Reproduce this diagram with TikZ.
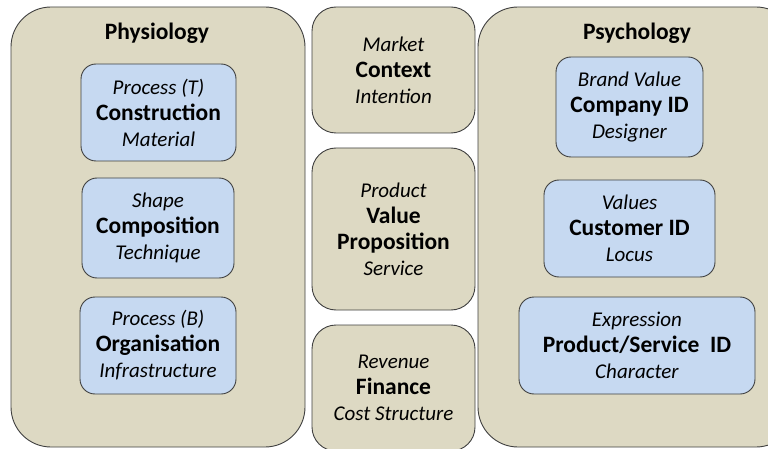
\documentclass[tikz,border=0pt]{standalone}
\usepackage{fontspec}
\setmainfont{Carlito}
\definecolor{tanbg}{HTML}{DDD9C3}
\definecolor{bluebg}{HTML}{C6D9F1}
\definecolor{edge}{HTML}{404040}
\newcommand{\trio}[3]{\textit{#1}\\\textbf{\fontsize{23.5}{26}\selectfont #2}\\\textit{#3}}
\begin{document}
\begin{tikzpicture}[x=1pt,y=-1pt,
  bigbox/.style={draw=edge,line width=0.9pt,fill=tanbg,rounded corners=40pt,inner sep=0pt},
  midbox/.style={draw=edge,line width=0.9pt,fill=tanbg,rounded corners=24pt,align=center,inner sep=0pt,font=\fontsize{21}{26}\selectfont},
  bluebox/.style={draw=edge,line width=0.9pt,fill=bluebg,rounded corners=15pt,align=center,inner sep=0pt,font=\fontsize{21}{26}\selectfont},
  title/.style={font=\bfseries\fontsize{23.5}{26}\selectfont}]
\useasboundingbox (0,0) rectangle (768,449);
\clip (0,0) rectangle (768,449);
\fill[white] (0,0) rectangle (768,449);
% big containers
\node[bigbox,minimum width=294pt,minimum height=440pt] (phys) at (158,227) {};
\node[bigbox,minimum width=318pt,minimum height=440pt] (psych) at (637,227) {};
\node[title] (physt) at (157,33) {Physiology};
\node[title] (psycht) at (637,33) {Psychology};
% middle column
\node[midbox,minimum width=163pt,minimum height=126pt] (ctx) at (393.5,70) {\trio{Market}{Context}{Intention}};
\node[midbox,minimum width=163pt,minimum height=162pt] (val) at (393.5,229) {\textit{Product}\\\textbf{\fontsize{23.5}{28}\selectfont Value}\\\textbf{\fontsize{23.5}{28.5}\selectfont Proposition}\\\textit{Service}};
\node[midbox,minimum width=163pt,minimum height=126pt] (fin) at (393.5,388) {\trio{Revenue}{Finance}{Cost Structure}};
% left inner
\node[bluebox,minimum width=155pt,minimum height=97pt] (cons) at (158.5,112.5) {\trio{Process (T)}{Construction}{Material}};
\node[bluebox,minimum width=152pt,minimum height=100pt] (comp) at (158,228) {\trio{Shape}{Composition}{Technique}};
\node[bluebox,minimum width=156pt,minimum height=97pt] (org) at (158,345.5) {\trio{Process (B)}{Organisation}{Infrastructure}};
% right inner
\node[bluebox,minimum width=147pt,minimum height=100pt] (cid) at (629.5,107) {\trio{Brand Value}{Company ID}{Designer}};
\node[bluebox,minimum width=171pt,minimum height=97pt] (cuid) at (629.5,228.5) {\trio{Values}{Customer ID}{Locus}};
\node[bluebox,minimum width=236pt,minimum height=97pt] (pid) at (637,345.5) {\trio{Expression}{Product/Service~~ID}{Character}};
\end{tikzpicture}
\end{document}
